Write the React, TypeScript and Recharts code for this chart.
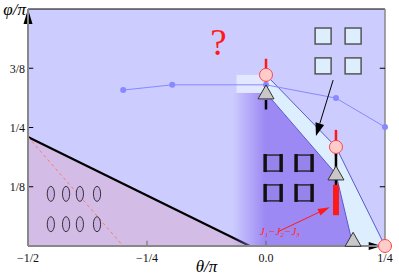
import React from 'react';
import {
  ComposedChart,
  XAxis,
  YAxis,
  CartesianGrid,
  Area,
  Line,
  Scatter,
  ReferenceLine,
  ReferenceArea,
} from 'recharts';

// axis ticks
const xTicks = [-0.5, -0.25, 0, 0.25];
const xTickLabels = ['−1/2', '−1/4', '0.0', '1/4'];
const yTicks = [0.125, 0.25, 0.375];
const yTickLabels = ['1/8', '1/4', '3/8'];
const bottomInnerTicks = [-0.25, 0];
const rightInnerTicks = [0.125, 0.375];

// phase boundaries
const solidBoundary = [{ x: -0.5, y: 0.23 }, { x: -0.034, y: 0 }];
const dashedBoundary = [{ x: -0.5, y: 0.23 }, { x: -0.3, y: 0 }];
const bandUpper = [{ x: 0, y: 0.361 }, { x: 0.147, y: 0.209 }, { x: 0.25, y: 0 }];
const bandLower = [{ x: 0, y: 0.323 }, { x: 0.147, y: 0.152 }, { x: 0.183, y: 0 }];
const purpleRegion = [{ x: -0.07, y: 0.323 }, { x: 0, y: 0.323 }, { x: 0.147, y: 0.152 }, { x: 0.183, y: 0 }];
const blueCurve = [
  { x: -0.3, y: 0.329 },
  { x: -0.197, y: 0.34 },
  { x: 0, y: 0.34 },
  { x: 0.147, y: 0.312 },
  { x: 0.25, y: 0.251 },
];
const circlePoints = [{ x: 0, y: 0.361 }, { x: 0.147, y: 0.209 }, { x: 0.25, y: 0 }];
const trianglePoints = [{ x: 0, y: 0.323 }, { x: 0.147, y: 0.152 }, { x: 0.183, y: 0.012 }];

// pictograms
const blueSquares = [
  { x: 0.12, y: 0.443 }, { x: 0.183, y: 0.443 },
  { x: 0.12, y: 0.38 }, { x: 0.183, y: 0.38 },
];
const bracketSquares = [
  { x: 0.015, y: 0.175 }, { x: 0.08, y: 0.175 },
  { x: 0.015, y: 0.112 }, { x: 0.08, y: 0.112 },
];
const ovals = [
  { x: -0.452, y: 0.11 }, { x: -0.42, y: 0.11 }, { x: -0.391, y: 0.11 }, { x: -0.355, y: 0.11 },
  { x: -0.452, y: 0.046 }, { x: -0.42, y: 0.046 }, { x: -0.391, y: 0.046 }, { x: -0.355, y: 0.046 },
];

// error bars [x, y1, y2]
const redBars = [[0, 0.395, 0.33], [0.147, 0.245, 0.19]];
const blackBars = [[0, 0.308, 0.288], [0.147, 0.196, 0.165], [0.147, 0.14, 0.127]];
const thickRedBar = [0.147, 0.129, 0.065];

const serif = 'Liberation Serif, Times New Roman, serif';

const arrow = (color: string, width: number, head: number, headW: number) => (p: any) => {
  const { x1, y1, x2, y2 } = p;
  const dx = x2 - x1;
  const dy = y2 - y1;
  const len = Math.hypot(dx, dy) || 1;
  const ux = dx / len;
  const uy = dy / len;
  const bx = x2 - ux * head;
  const by = y2 - uy * head;
  const px = (-uy * headW) / 2;
  const py = (ux * headW) / 2;
  return (
    <g>
      <line x1={x1} y1={y1} x2={bx} y2={by} stroke={color} strokeWidth={width} />
      <polygon points={`${x2},${y2} ${bx + px},${by + py} ${bx - px},${by - py}`} fill={color} />
    </g>
  );
};

const triangle = (p: any) => (
  <polygon
    points={`${p.cx},${p.cy - 8} ${p.cx - 8},${p.cy + 6} ${p.cx + 8},${p.cy + 6}`}
    fill="#c8c8c8"
    stroke="#333"
    strokeWidth={1}
  />
);

const circle = (p: any) => (
  <circle cx={p.cx} cy={p.cy} r={6.5} fill="#ffcccc" stroke="#ff4444" strokeWidth={1} />
);

const blueSquare = (p: any) => (
  <rect x={p.cx - 8} y={p.cy - 8} width={16} height={16} fill="#ddeeff" stroke="#555" strokeWidth={1.5} />
);

const bracketSquare = (p: any) => (
  <g>
    <rect x={p.cx - 8} y={p.cy - 8} width={16} height={16} fill="#9784ea" stroke="#111" strokeWidth={1.2} />
    <line x1={p.cx - 8} y1={p.cy - 9} x2={p.cx - 8} y2={p.cy + 9} stroke="#111" strokeWidth={3.5} />
    <line x1={p.cx + 8} y1={p.cy - 9} x2={p.cx + 8} y2={p.cy + 9} stroke="#111" strokeWidth={3.5} />
  </g>
);

const oval = (p: any) => (
  <ellipse cx={p.cx} cy={p.cy} rx={3.6} ry={7.5} fill="#c9b2e2" stroke="#333" strokeWidth={1} />
);

const textMarks = [
  { x: -0.1, y: 0.43, kind: 'question' },
  { x: 0.029, y: 0.03, kind: 'j' },
  { x: -0.5, y: 0.5, kind: 'phi' },
];

const textShape = (p: any) => {
  const k = p.payload.kind;
  if (k === 'question') {
    return (
      <text x={p.cx} y={p.cy + 13} textAnchor="middle" fill="#ff1a1a" fontFamily={serif} fontSize={37}>?</text>
    );
  }
  if (k === 'phi') {
    return (
      <text x={p.cx - 2} y={p.cy + 6} textAnchor="end" fill="#000" fontFamily={serif} fontStyle="italic" fontSize={17}>φ/π</text>
    );
  }
  return (
    <text x={p.cx} y={p.cy + 3} textAnchor="middle" fill="#ff2a2a" fontFamily={serif} fontStyle="italic" fontSize={11}>
      J<tspan dy={2} fontSize={7}>1</tspan>
      <tspan dy={-2}>−J</tspan><tspan dy={2} fontSize={7}>2</tspan>
      <tspan dy={-2}>−J</tspan><tspan dy={2} fontSize={7}>3</tspan>
    </text>
  );
};

export default function App() {
  return (
    <div style={{ position: 'absolute', left: 0, top: 0 }}>
      <ComposedChart width={399} height={276} margin={{ top: 9, right: 14, bottom: 0, left: 0 }}>
        <defs>
          <linearGradient id="purpleGrad" x1="0" y1="0" x2="1" y2="0">
            <stop offset="0" stopColor="#9d89f3" stopOpacity={0} />
            <stop offset="0.27" stopColor="#9d89f3" stopOpacity={1} />
            <stop offset="1" stopColor="#9d89f3" stopOpacity={1} />
          </linearGradient>
        </defs>
        <CartesianGrid horizontal={false} vertical={false} fill="#ccccff" />
        <XAxis
          type="number"
          dataKey="x"
          domain={[-0.5, 0.25]}
          ticks={xTicks}
          tickFormatter={(v: number) => xTickLabels[xTicks.indexOf(v)]}
          tickLine={false}
          tickSize={0}
          tickMargin={7}
          height={30}
          axisLine={{ stroke: '#888', strokeWidth: 2 }}
          tick={{ fill: '#111', fontSize: 12, fontFamily: serif }}
          label={{ value: 'θ/π', position: 'insideBottom', offset: 4, fill: '#000', fontFamily: serif, fontStyle: 'italic', fontSize: 17 }}
        />
        <YAxis
          type="number"
          dataKey="y"
          domain={[0, 0.5]}
          ticks={yTicks}
          tickFormatter={(v: number) => yTickLabels[yTicks.indexOf(v)]}
          tickLine={false}
          tickSize={0}
          tickMargin={3}
          width={28}
          axisLine={{ stroke: '#888', strokeWidth: 2 }}
          tick={{ fill: '#111', fontSize: 12, fontFamily: serif }}
        />

        <Area data={solidBoundary} dataKey="y" type="linear" fill="#d3bce6" fillOpacity={1} stroke="#000" strokeWidth={2.2} isAnimationActive={false} />
        <Line data={dashedBoundary} dataKey="y" type="linear" stroke="#ff7777" strokeDasharray="3 3" strokeWidth={1} dot={false} isAnimationActive={false} />
        <Area data={bandUpper} dataKey="y" type="linear" fill="#ddeeff" fillOpacity={1} stroke="#5a5acc" strokeWidth={1} isAnimationActive={false} />
        <Area data={purpleRegion} dataKey="y" type="linear" fill="url(#purpleGrad)" fillOpacity={1} stroke="none" isAnimationActive={false} />
        <Line data={bandLower} dataKey="y" type="linear" stroke="#5a5acc" strokeWidth={1} dot={false} isAnimationActive={false} />
        <ReferenceArea x1={-0.062} x2={0} y1={0.323} y2={0.361} fill="#e2e8ff" fillOpacity={1} stroke="none" />
        <Line data={blueCurve} dataKey="y" type="linear" stroke="#8888ff" strokeWidth={1} dot={{ r: 3, fill: '#8888ff', stroke: 'none' }} isAnimationActive={false} />

        {/* frame and inner ticks */}
        <ReferenceLine y={0.5} stroke="#000" strokeWidth={1} />
        <ReferenceLine x={0.25} stroke="#888" strokeWidth={1.5} />
        {yTicks.map((t) => (
          <ReferenceLine key={`l${t}`} segment={[{ x: -0.5, y: t }, { x: -0.489, y: t }]} stroke="#000" strokeWidth={1} />
        ))}
        {rightInnerTicks.map((t) => (
          <ReferenceLine key={`r${t}`} segment={[{ x: 0.25, y: t }, { x: 0.239, y: t }]} stroke="#000" strokeWidth={1} />
        ))}
        {bottomInnerTicks.map((t) => (
          <ReferenceLine key={`b${t}`} segment={[{ x: t, y: 0 }, { x: t, y: 0.011 }]} stroke="#666" strokeWidth={1} />
        ))}
        <ReferenceLine segment={[{ x: -0.5, y: 0.45 }, { x: -0.5, y: 0.5 }]} shape={arrow('#000', 0, 15, 9)} />
        <ReferenceLine segment={[{ x: 0.215, y: 0 }, { x: 0.243, y: 0 }]} shape={arrow('#000', 2, 13, 8)} />

        {/* error bars */}
        {redBars.map((b, i) => (
          <ReferenceLine key={`rb${i}`} segment={[{ x: b[0], y: b[1] }, { x: b[0], y: b[2] }]} stroke="#ff1a1a" strokeWidth={2.5} />
        ))}
        {blackBars.map((b, i) => (
          <ReferenceLine key={`bb${i}`} segment={[{ x: b[0], y: b[1] }, { x: b[0], y: b[2] }]} stroke="#000" strokeWidth={2.5} />
        ))}
        <ReferenceLine segment={[{ x: thickRedBar[0], y: thickRedBar[1] }, { x: thickRedBar[0], y: thickRedBar[2] }]} stroke="#ff1a1a" strokeWidth={6} />

        {/* arrows */}
        <ReferenceLine segment={[{ x: 0.141, y: 0.35 }, { x: 0.105, y: 0.232 }]} shape={arrow('#000', 1, 13, 9)} />
        <ReferenceLine segment={[{ x: 0.025, y: 0.03 }, { x: 0.134, y: 0.082 }]} shape={arrow('#ff1a1a', 1, 12, 7)} />

        <Scatter data={trianglePoints} shape={triangle} isAnimationActive={false} />
        <Scatter data={circlePoints} shape={circle} isAnimationActive={false} />
        <Scatter data={blueSquares} shape={blueSquare} isAnimationActive={false} />
        <Scatter data={bracketSquares} shape={bracketSquare} isAnimationActive={false} />
        <Scatter data={ovals} shape={oval} isAnimationActive={false} />
        <Scatter data={textMarks} shape={textShape} isAnimationActive={false} />
      </ComposedChart>
    </div>
  );
}
